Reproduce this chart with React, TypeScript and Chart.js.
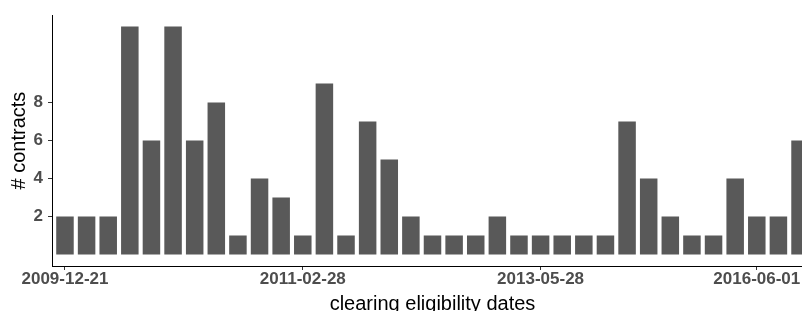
import React, { useEffect, useRef } from "react";
import { Chart, registerables } from "chart.js";

Chart.register(...registerables);

// Contracts per clearing-eligibility date (one bar per date, in order)
const counts: number[] = [
  2, 2, 2, 12, 6, 12, 6, 8, 1, 4, 3, 1, 9, 1, 7, 5, 2, 1, 1, 1, 2, 1, 1, 1, 1, 1,
  7, 4, 2, 1, 1, 4, 2, 2, 6,
];
// Which bars carry a date label, and the labels
const tickIndices: number[] = [0, 11, 22, 32];
const tickLabels: string[] = ["2009-12-21", "2011-02-28", "2013-05-28", "2016-06-01"];
const yTicks: number[] = [2, 4, 6, 8];

const FONT = "'Liberation Sans', Arial, Helvetica, sans-serif";
const CW = 822;
const CH = 320;

export default function App() {
  const ref = useRef<HTMLCanvasElement | null>(null);

  useEffect(() => {
    if (!ref.current) return;
    const chart = new Chart(ref.current, {
      type: "bar",
      data: {
        datasets: [
          {
            data: counts.map((v, i) => ({ x: i, y: v })),
            backgroundColor: "#595959",
            borderWidth: 0,
            barPercentage: 0.81,
            categoryPercentage: 1,
          },
        ],
      },
      options: {
        animation: false,
        responsive: false,
        devicePixelRatio: 1,
        layout: { padding: { top: 12, right: 9, left: 0, bottom: 0 } },
        plugins: { legend: { display: false }, tooltip: { enabled: false } },
        scales: {
          x: {
            type: "linear",
            min: -0.6,
            max: counts.length - 1 + 0.6,
            offset: false,
            afterBuildTicks: (s: any) => {
              s.ticks = tickIndices.map((v) => ({ value: v }));
            },
            afterFit: (s: any) => {
              s.height = CH - 266;
            },
            grid: {
              display: true,
              offset: false,
              drawOnChartArea: false,
              drawTicks: true,
              tickLength: 4,
              color: "#333333",
              lineWidth: 1,
            },
            border: { display: true, color: "#000000", width: 1 },
            ticks: {
              autoSkip: false,
              maxRotation: 0,
              padding: -1,
              color: "#4d4d4d",
              font: { family: FONT, size: 17, weight: "bold" },
              callback: (value: any) => {
                const k = tickIndices.indexOf(Number(value));
                return k >= 0 ? tickLabels[k] : "";
              },
            },
            title: {
              display: true,
              text: "clearing eligibility dates",
              color: "#000000",
              font: { family: FONT, size: 20 },
              padding: { top: 0, bottom: 4 },
            },
          },
          y: {
            type: "linear",
            min: -0.6,
            max: 12.6,
            afterBuildTicks: (s: any) => {
              s.ticks = yTicks.map((v) => ({ value: v }));
            },
            afterFit: (s: any) => {
              s.width = 52;
            },
            grid: {
              display: true,
              offset: false,
              drawOnChartArea: false,
              drawTicks: true,
              tickLength: 4,
              color: "#333333",
              lineWidth: 1,
            },
            border: { display: true, color: "#000000", width: 1 },
            ticks: {
              padding: 5,
              color: "#4d4d4d",
              font: { family: FONT, size: 17, weight: "bold" },
            },
            title: {
              display: true,
              text: "# contracts",
              color: "#000000",
              font: { family: FONT, size: 20 },
              padding: { top: 7.5, bottom: 0 },
            },
          },
        },
      },
    });
    return () => chart.destroy();
  }, []);

  return (
    <div
      style={{
        position: "fixed",
        left: 0,
        top: 0,
        width: 802,
        height: 311,
        overflow: "hidden",
        background: "#ffffff",
      }}
    >
      <canvas
        ref={ref}
        width={CW}
        height={CH}
        style={{ display: "block", width: CW, height: CH }}
      />
    </div>
  );
}
